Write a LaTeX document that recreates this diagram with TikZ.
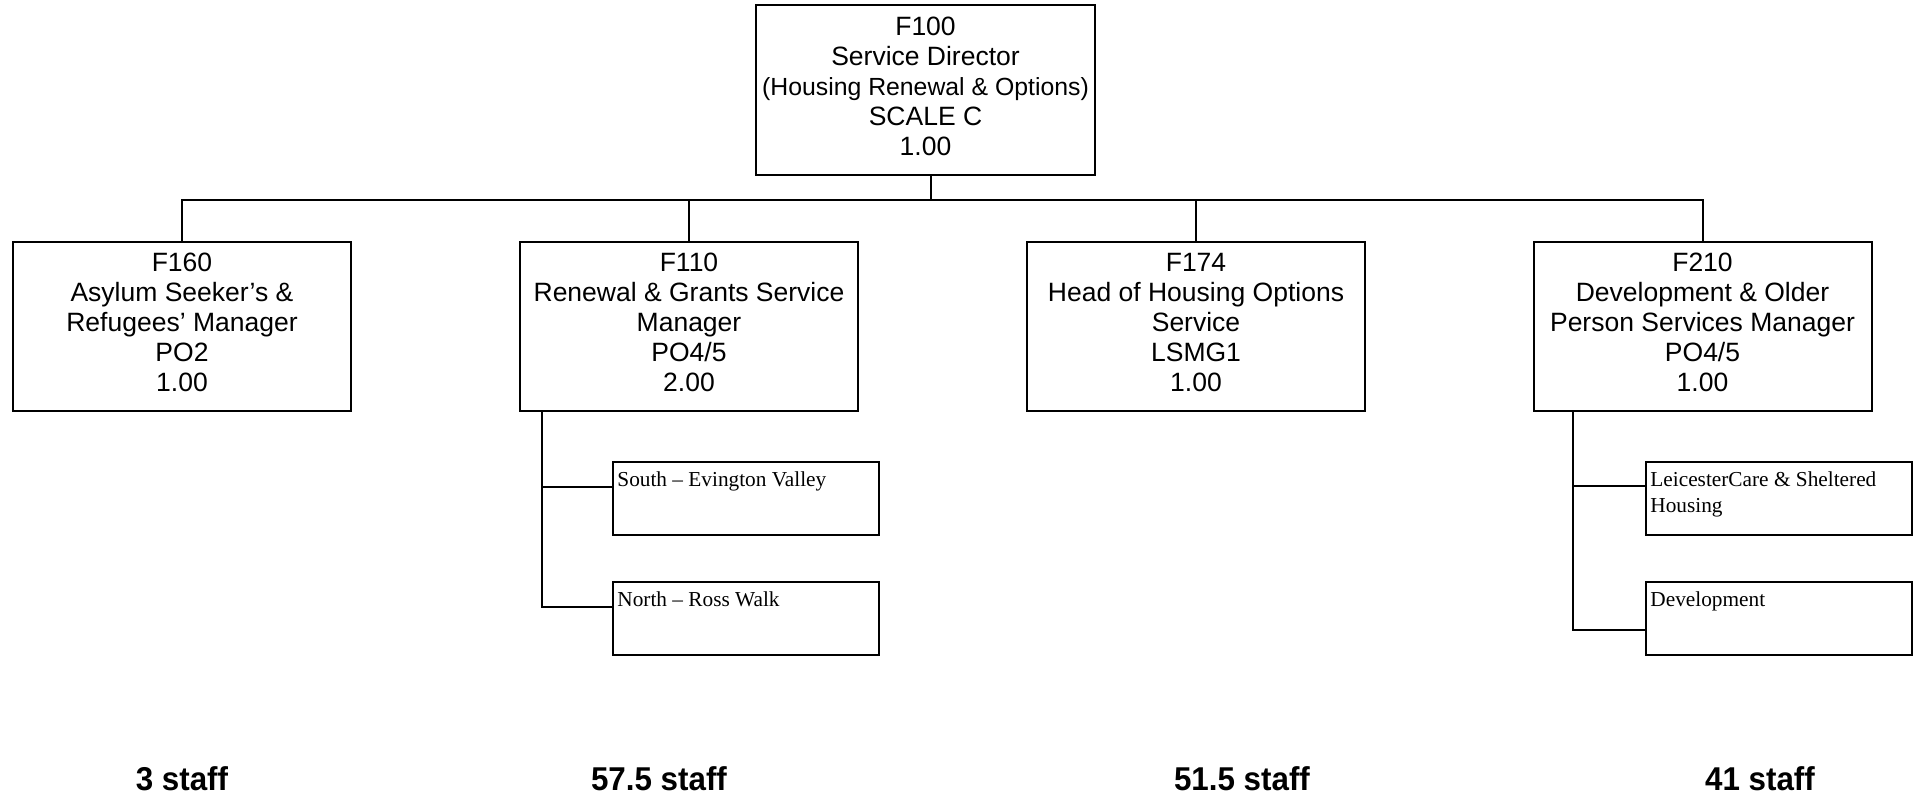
\documentclass[tikz,border=0pt]{standalone}
\usepackage{fontspec}
\setmainfont{Liberation Sans}
\newfontfamily\subfont{Liberation Serif}
\newfontfamily\stafffont[FakeStretch=0.95]{Liberation Sans}
\begin{document}
\begin{tikzpicture}[x=0.5pt,y=-0.5pt,
  post/.style={draw, line width=1pt, rectangle, minimum width=169pt, minimum height=84.5pt, inner sep=0pt},
  topbox/.style={post, minimum width=169.5pt, minimum height=85pt},
  posttext/.style={align=center, inner sep=0pt, font=\fontsize{13.25}{15}\selectfont},
  unit/.style={draw, line width=1pt, rectangle, minimum width=133pt, minimum height=36.5pt, inner sep=0pt},
  unittext/.style={anchor=north west, inner sep=0pt, align=left, font=\subfont\fontsize{10.65}{13}\selectfont},
  staff/.style={anchor=base, inner sep=0pt, font=\stafffont\bfseries\fontsize{16.5}{18}\selectfont},
  link/.style={line width=1pt}]
\useasboundingbox (0,0) rectangle (1916,794);

% director
\node[topbox] (f100) at (925.5,90) {};
\node[posttext] (f100t) at (925.5,86) {F100\\Service Director\\{\fontsize{12.4}{15}\selectfont (Housing Renewal \& Options)}\\SCALE C\\1.00};

% managers
\node[post] (f160) at (182,326.5) {};
\node[posttext] (f160t) at (182,322.5) {F160\\Asylum Seeker’s \&\\Refugees’ Manager\\PO2\\1.00};
\node[post] (f110) at (689,326.5) {};
\node[posttext] (f110t) at (689,322.5) {F110\\Renewal \& Grants Service\\Manager\\PO4/5\\2.00};
\node[post] (f174) at (1196,326.5) {};
\node[posttext] (f174t) at (1196,322.5) {F174\\Head of Housing Options\\Service\\LSMG1\\1.00};
\node[post] (f210) at (1702.5,326.5) {};
\node[posttext] (f210t) at (1702.5,322.5) {F210\\Development \& Older\\Person Services Manager\\PO4/5\\1.00};

% teams
\node[unit] (south) at (746,498.5) {};
\node[unittext] (southt) at ([xshift=2.5pt,yshift=-5.2pt]south.north west) {South – Evington Valley};
\node[unit] (north) at (746,618.5) {};
\node[unittext] (northt) at ([xshift=2.5pt,yshift=-5.2pt]north.north west) {North – Ross Walk};
\node[unit] (leic) at (1779,498.5) {};
\node[unittext] (leict) at ([xshift=2.5pt,yshift=-5.2pt]leic.north west) {LeicesterCare \& Sheltered\\Housing};
\node[unit] (dev) at (1779,618.5) {};
\node[unittext] (devt) at ([xshift=2.5pt,yshift=-5.2pt]dev.north west) {Development};

% reporting lines
\coordinate (bus) at (931,199.5);
\draw[link] (bus |- f100.south) -- (bus);
\draw[link] (f160.north) -- (f160.north |- bus) -- (f210.north |- bus) -- (f210.north);
\draw[link] (f110.north) -- (f110.north |- bus);
\draw[link] (f174.north) -- (f174.north |- bus);

\coordinate (lj1) at (542,487);
\coordinate (lj2) at (542,607);
\draw[link] (f110.south -| lj1) -- (lj2) -- (lj2 -| north.west);
\draw[link] (lj1) -- (lj1 -| south.west);

\coordinate (rj1) at (1573,486);
\coordinate (rj2) at (1573,630);
\draw[link] (f210.south -| rj1) -- (rj2) -- (rj2 -| dev.west);
\draw[link] (rj1) -- (rj1 -| leic.west);

% headcounts
\node[staff] (s160) at (182,790) {3 staff};
\node[staff] (s110) at (659,790) {57.5 staff};
\node[staff] (s174) at (1242,790) {51.5 staff};
\node[staff] (s210) at (1760,790) {41 staff};
\end{tikzpicture}
\end{document}
